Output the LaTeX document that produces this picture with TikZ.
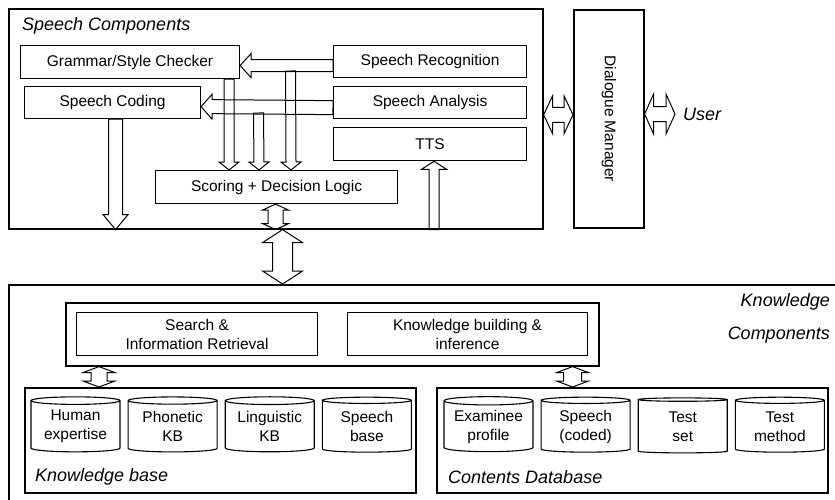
\documentclass[tikz,border=0pt]{standalone}
\usepackage{fontspec}
\setmainfont{Liberation Sans}
\usetikzlibrary{calc,positioning,shapes.geometric}

\newcommand{\boxfont}{\fontsize{15.5}{19}\selectfont}
\newcommand{\tagfont}{\fontsize{18}{21}\selectfont\itshape}

% hollow block arrow: from, to, half shaft, half head, head length
\newcommand{\hollowarrow}[5]{%
  \coordinate (ha) at ($(#2)!#5!(#1)$);
  \draw[hollow] ($(#1)!#3!90:(#2)$) -- ($(ha)!#3!90:(#2)$) -- ($(ha)!#4!90:(#2)$) -- (#2)
    -- ($(ha)!#4!-90:(#2)$) -- ($(ha)!#3!-90:(#2)$) -- ($(#1)!#3!-90:(#2)$) -- cycle;
}
% same, with a head at both ends
\newcommand{\hollowdarrow}[5]{%
  \coordinate (hb) at ($(#1)!#5!(#2)$);
  \coordinate (hc) at ($(#2)!#5!(#1)$);
  \draw[hollow] (#1) -- ($(hb)!#4!90:(#2)$) -- ($(hb)!#3!90:(#2)$) -- ($(hc)!#3!90:(#2)$)
    -- ($(hc)!#4!90:(#2)$) -- (#2) -- ($(hc)!#4!-90:(#2)$) -- ($(hc)!#3!-90:(#2)$)
    -- ($(hb)!#3!-90:(#2)$) -- ($(hb)!#4!-90:(#2)$) -- cycle;
}

\begin{document}
\begin{tikzpicture}[x=1pt,y=-1pt,
    box/.style={draw, line width=1.1pt, inner sep=0pt, anchor=north west, font=\boxfont, align=center},
    frame/.style={line width=1.6pt},
    store/.style={cylinder, shape border rotate=90, aspect=0.12, draw, line width=1.1pt,
                  minimum width=89pt, minimum height=55pt, inner sep=0pt, font=\boxfont, align=center},
    hollow/.style={draw, line width=1pt, line join=miter},
    tag/.style={font=\tagfont, inner sep=0pt}]

  \clip (0,0) rectangle (835,499);
  \useasboundingbox (0,0) rectangle (835,499);

  % speech components
  \node[box, frame, minimum width=534pt, minimum height=220pt] (speech) at (8,8) {};
  \node[tag, anchor=west] (speechtag) at (22,26) {Speech Components};
  \node[box, minimum width=219pt, minimum height=33pt] (gc) at (20,45) {Grammar/Style Checker};
  \node[box, minimum width=176pt, minimum height=32pt] (coding) at (24,86) {Speech Coding};
  \node[box, minimum width=193pt, minimum height=32pt] (recog) at (333,45) {Speech Recognition};
  \node[box, minimum width=193pt, minimum height=32pt, below=8pt of recog] (analysis) {Speech Analysis};
  \node[box, minimum width=193pt, minimum height=33pt, below=8pt of analysis] (tts) {TTS};
  \node[box, minimum width=242pt, minimum height=33pt] (score) at (155,170) {Scoring + Decision Logic};

  \node[box, frame, minimum width=70pt, minimum height=218pt] (dm) at (573,9) {};
  \node[rotate=-90, font=\boxfont] (dmtext) at (dm.center) {Dialogue Manager};
  \node[tag, anchor=west] (user) at (683,114) {User};

  % knowledge components
  \node[box, frame, minimum width=840pt, minimum height=230pt] (know) at (8,284) {};
  \node[tag, anchor=east] (knowtag) at (830,302) {Knowledge};
  \node[tag, anchor=east] (comptag) at (830,335) {Components};
  \node[box, frame, minimum width=533pt, minimum height=63pt] (engine) at (65,302) {};
  \node[box, minimum width=241pt, minimum height=43pt] (search) at (76,312) {Search \&\\Information Retrieval};
  \node[box, minimum width=240pt, minimum height=43pt] (build) at (347,312) {Knowledge building \&\\inference};

  \node[box, frame, minimum width=391pt, minimum height=105pt] (kb) at (24,387) {};
  \node[tag, anchor=west] (kbtag) at (35,477) {Knowledge base};
  \node[store] (human) at (75.5,426.5) {Human\\expertise};
  \node[store, right=7pt of human] (phonetic) {Phonetic\\KB};
  \node[store, right=7pt of phonetic] (linguistic) {Linguistic\\KB};
  \node[store, right=7pt of linguistic] (speechbase) {Speech\\base};

  \node[box, frame, minimum width=391pt, minimum height=105pt] (cdb) at (436,387) {};
  \node[tag, anchor=west] (cdbtag) at (448,477) {Contents Database};
  \node[store] (examinee) at (488.5,426.5) {Examinee\\profile};
  \node[store, right=7pt of examinee] (coded) {Speech\\(coded)};
  \node[store, right=7pt of coded] (testset) {Test\\set};
  \node[store, right=7pt of testset] (method) {Test\\method};

  % connectors
  \coordinate (recogout) at ([yshift=-4pt]recog.west);
  \coordinate (gcin) at ([yshift=-3.5pt]gc.east);
  \hollowarrow{recogout}{gcin}{6pt}{12pt}{11pt}
  \coordinate (analysisout) at ([yshift=-5pt]analysis.west);
  \coordinate (codingin) at ([yshift=-4pt]coding.east);
  \hollowarrow{analysisout}{codingin}{7pt}{12.5pt}{11pt}

  \coordinate (gcout) at ([xshift=99pt]gc.south);
  \coordinate (tap1) at (258.5,113);
  \coordinate (tap2) at (290.5,71);
  \coordinate (scorein1) at ([xshift=-47.5pt]score.north);
  \coordinate (scorein2) at ([xshift=-17.5pt]score.north);
  \coordinate (scorein3) at ([xshift=14.5pt]score.north);
  \hollowarrow{gcout}{scorein1}{5pt}{10pt}{8pt}
  \hollowarrow{tap1}{scorein2}{5pt}{10pt}{8pt}
  \hollowarrow{tap2}{scorein3}{5pt}{10pt}{8pt}

  \coordinate (codingout) at ([xshift=3pt]coding.south);
  \coordinate (floor1) at (codingout |- speech.south);
  \hollowarrow{codingout}{floor1}{7pt}{12.5pt}{15pt}
  \coordinate (ttsin) at ([xshift=4pt]tts.south);
  \coordinate (floor2) at (ttsin |- speech.south);
  \hollowarrow{floor2}{ttsin}{5pt}{12.5pt}{8pt}

  \coordinate (scoreout) at ([xshift=-1pt]score.south);
  \coordinate (floor3) at (scoreout |- speech.south);
  \hollowdarrow{scoreout}{floor3}{7.5pt}{13pt}{6pt}
  \coordinate (floor4) at ([xshift=6pt]score.south |- speech.south);
  \coordinate (roof) at (floor4 |- know.north);
  \hollowdarrow{floor4}{roof}{10pt}{20pt}{13pt}

  \coordinate (speechport) at ([yshift=4pt]speech.east);
  \coordinate (dmin) at (dm.west |- speechport);
  \hollowdarrow{speechport}{dmin}{7.5pt}{19pt}{9pt}
  \coordinate (userport) at ([xshift=-8pt]user.west);
  \coordinate (dmout) at (dm.east |- userport);
  \hollowdarrow{dmout}{userport}{7.5pt}{20pt}{9pt}

  \coordinate (engineout1) at ([xshift=34pt]engine.south west);
  \coordinate (kbin) at (engineout1 |- kb.north);
  \hollowdarrow{engineout1}{kbin}{8pt}{16pt}{6pt}
  \coordinate (engineout2) at ([xshift=-27pt]engine.south east);
  \coordinate (cdbin) at (engineout2 |- cdb.north);
  \hollowdarrow{engineout2}{cdbin}{9pt}{16pt}{6pt}
\end{tikzpicture}
\end{document}
